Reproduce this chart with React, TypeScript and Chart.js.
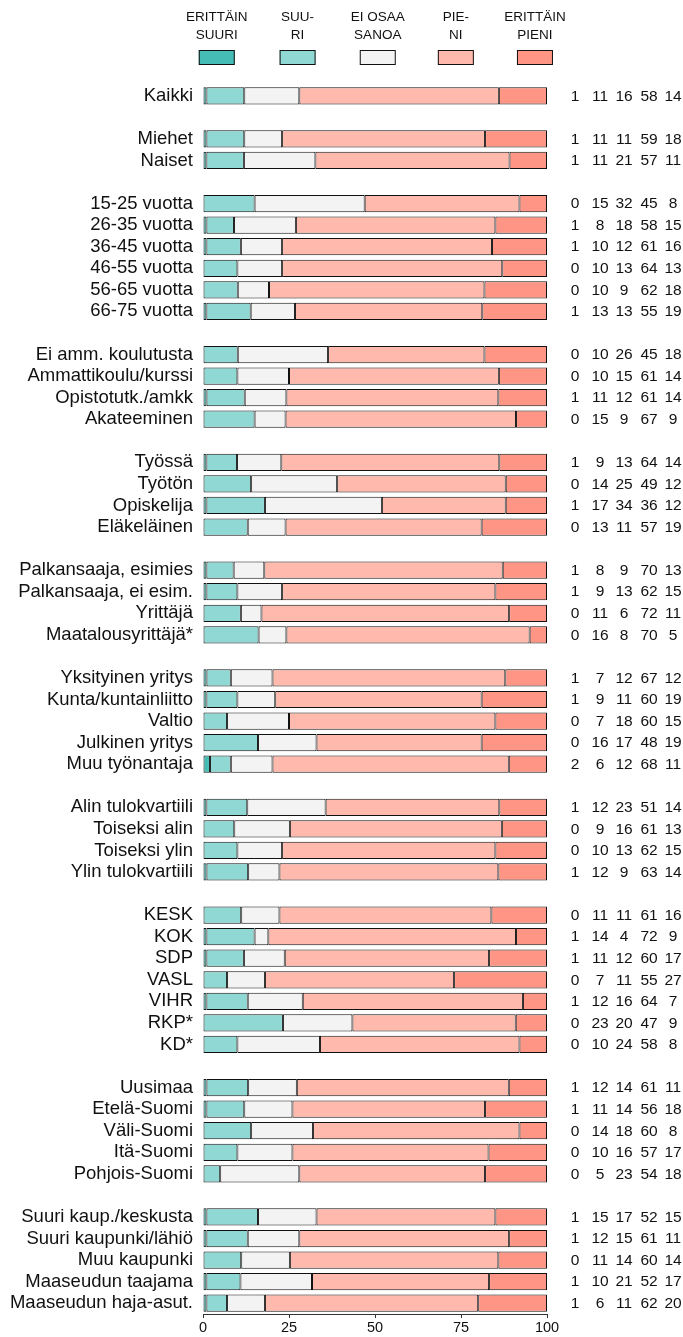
import React, { useEffect, useRef } from "react";
import { Chart, registerables } from "chart.js";

Chart.register(...registerables);

const categories: string[] = [
  "Kaikki", "",
  "Miehet", "Naiset", "",
  "15-25 vuotta", "26-35 vuotta", "36-45 vuotta", "46-55 vuotta", "56-65 vuotta", "66-75 vuotta", "",
  "Ei amm. koulutusta", "Ammattikoulu/kurssi", "Opistotutk./amkk", "Akateeminen", "",
  "Työssä", "Työtön", "Opiskelija", "Eläkeläinen", "",
  "Palkansaaja, esimies", "Palkansaaja, ei esim.", "Yrittäjä", "Maatalousyrittäjä*", "",
  "Yksityinen yritys", "Kunta/kuntainliitto", "Valtio", "Julkinen yritys", "Muu työnantaja", "",
  "Alin tulokvartiili", "Toiseksi alin", "Toiseksi ylin", "Ylin tulokvartiili", "",
  "KESK", "KOK", "SDP", "VASL", "VIHR", "RKP*", "KD*", "",
  "Uusimaa", "Etelä-Suomi", "Väli-Suomi", "Itä-Suomi", "Pohjois-Suomi", "",
  "Suuri kaup./keskusta", "Suuri kaupunki/lähiö", "Muu kaupunki", "Maaseudun taajama", "Maaseudun haja-asut.",
];

const _ = null;
const erittainSuuri = [1, _, 1, 1, _, 0, 1, 1, 0, 0, 1, _, 0, 0, 1, 0, _, 1, 0, 1, 0, _, 1, 1, 0, 0, _, 1, 1, 0, 0, 2, _, 1, 0, 0, 1, _, 0, 1, 1, 0, 1, 0, 0, _, 1, 1, 0, 0, 0, _, 1, 1, 0, 1, 1];
const suuri = [11, _, 11, 11, _, 15, 8, 10, 10, 10, 13, _, 10, 10, 11, 15, _, 9, 14, 17, 13, _, 8, 9, 11, 16, _, 7, 9, 7, 16, 6, _, 12, 9, 10, 12, _, 11, 14, 11, 7, 12, 23, 10, _, 12, 11, 14, 10, 5, _, 15, 12, 11, 10, 6];
const eiOsaaSanoa = [16, _, 11, 21, _, 32, 18, 12, 13, 9, 13, _, 26, 15, 12, 9, _, 13, 25, 34, 11, _, 9, 13, 6, 8, _, 12, 11, 18, 17, 12, _, 23, 16, 13, 9, _, 11, 4, 12, 11, 16, 20, 24, _, 14, 14, 18, 16, 23, _, 17, 15, 14, 21, 11];
const pieni = [58, _, 59, 57, _, 45, 58, 61, 64, 62, 55, _, 45, 61, 61, 67, _, 64, 49, 36, 57, _, 70, 62, 72, 70, _, 67, 60, 60, 48, 68, _, 51, 61, 62, 63, _, 61, 72, 60, 55, 64, 47, 58, _, 61, 56, 60, 57, 54, _, 52, 61, 60, 52, 62];
const erittainPieni = [14, _, 18, 11, _, 8, 15, 16, 13, 18, 19, _, 18, 14, 14, 9, _, 14, 12, 12, 19, _, 13, 15, 11, 5, _, 12, 19, 15, 19, 11, _, 14, 13, 15, 14, _, 16, 9, 17, 27, 7, 9, 8, _, 11, 18, 8, 17, 18, _, 15, 11, 14, 17, 20];

const legendLines: string[][] = [
  ["ERITTÄIN", "SUURI"],
  ["SUU-", "RI"],
  ["EI OSAA", "SANOA"],
  ["PIE-", "NI"],
  ["ERITTÄIN", "PIENI"],
];
const colors = ["#45BDB6", "#90D8D3", "#F3F3F3", "#FFB9AD", "#FF9685"];
const xTicks = [0, 25, 50, 75, 100];

const FONT = '"Liberation Sans", Arial, Helvetica, sans-serif';
const TEXT = "#111111";

export default function App() {
  const ref = useRef<HTMLCanvasElement | null>(null);

  useEffect(() => {
    if (!ref.current) return;
    const series = [erittainSuuri, suuri, eiOsaaSanoa, pieni, erittainPieni];
    // 100 % stacked: each row's bar is drawn as shares of the row total
    const rowTotals = categories.map((_c, i) =>
      series.reduce((acc, s) => acc + (s[i] === null ? 0 : (s[i] as number)), 0)
    );

    const legendPlugin = {
      id: "customLegend",
      afterDraw(chart: any) {
        const ctx = chart.ctx;
        const area = chart.chartArea;
        const w = area.right - area.left;
        ctx.save();
        const centers = [0.04, 0.275, 0.508, 0.735, 0.965].map((f) => area.left + f * w);
        centers.forEach((cx, i) => {
          ctx.fillStyle = TEXT;
          ctx.font = `13.5px ${FONT}`;
          ctx.textAlign = "center";
          ctx.textBaseline = "middle";
          ctx.fillText(legendLines[i][0], cx, 17);
          ctx.fillText(legendLines[i][1], cx, 35);
          ctx.fillStyle = colors[i];
          ctx.fillRect(cx - 18, 50, 36, 15);
          ctx.strokeStyle = "#111";
          ctx.lineWidth = 1;
          ctx.strokeRect(cx - 17.5, 50.5, 35, 14);
        });
        ctx.restore();
      },
    };

    const valuesPlugin = {
      id: "valueColumns",
      afterDatasetsDraw(chart: any) {
        const ctx = chart.ctx;
        const yScale = chart.scales.y;
        const cols = [575, 600, 624, 649, 673];
        ctx.save();
        ctx.font = `15.5px ${FONT}`;
        ctx.fillStyle = TEXT;
        ctx.textAlign = "center";
        ctx.textBaseline = "middle";
        categories.forEach((c, i) => {
          if (series[0][i] === null) return;
          const y = yScale.getPixelForValue(i);
          series.forEach((s, k) => {
            ctx.fillText(String(s[i]), cols[k], y + 0.5);
          });
        });
        ctx.restore();
      },
    };

    const chart = new Chart(ref.current, {
      type: "bar",
      data: {
        labels: categories,
        datasets: series.map((s, k) => ({
          label: legendLines[k].join(" "),
          data: s.map((v, i) => (v === null ? null : (v / rowTotals[i]) * 100)),
          backgroundColor: colors[k],
          borderColor: "#111",
          borderWidth: 1,
          borderSkipped: false,
          barPercentage: 0.8,
          categoryPercentage: 1,
        })),
      },
      options: {
        indexAxis: "y",
        animation: false,
        responsive: false,
        maintainAspectRatio: false,
        layout: { padding: { top: 85, right: 136, left: 0, bottom: 0 } },
        plugins: { legend: { display: false }, tooltip: { enabled: false } },
        scales: {
          x: {
            stacked: true,
            min: 0,
            max: 100,
            afterBuildTicks(scale: any) {
              scale.ticks = xTicks.map((v) => ({ value: v }));
            },
            afterFit(scale: any) {
              scale.height = 23;
            },
            grid: { display: true, drawOnChartArea: false, drawTicks: true, tickLength: 4, color: "#333" },
            border: { display: true, color: "#333" },
            ticks: { color: TEXT, font: { family: FONT, size: 14.5 }, padding: 1, maxRotation: 0 },
          },
          y: {
            stacked: true,
            afterFit(scale: any) {
              scale.width = 203;
            },
            grid: { display: false, drawTicks: false },
            border: { display: false },
            ticks: { color: TEXT, font: { family: FONT, size: 18.5 }, padding: 10, autoSkip: false },
          },
        },
      },
      plugins: [legendPlugin, valuesPlugin],
    });
    return () => chart.destroy();
  }, []);

  return (
    <div style={{ position: "absolute", left: 0, top: 0, width: 683, height: 1337 }}>
      <canvas ref={ref} width={683} height={1337} />
    </div>
  );
}
